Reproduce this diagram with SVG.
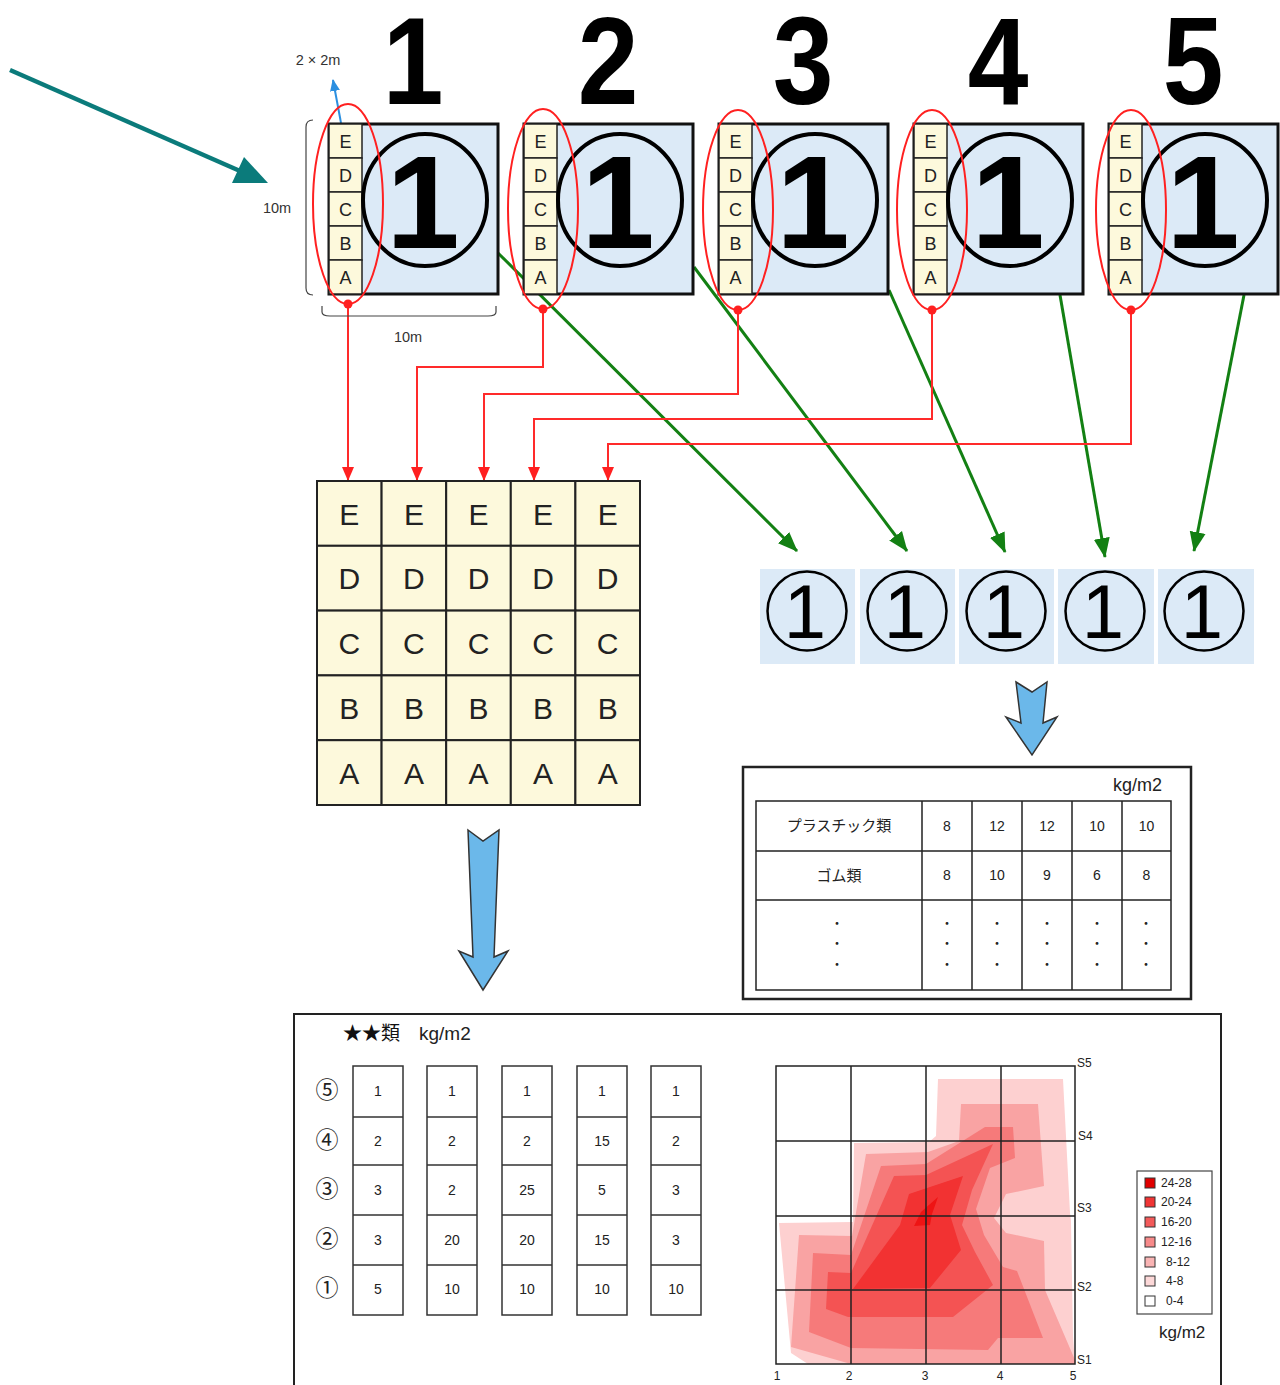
<svg xmlns="http://www.w3.org/2000/svg" width="1280" height="1385" viewBox="0 0 1280 1385">
<defs>
<style>
.sans{font-family:"Liberation Sans","Noto Sans CJK JP",sans-serif;}
.jp{font-family:"Noto Sans CJK JP","Liberation Sans",sans-serif;}
.blk{fill:#dceaf7;stroke:#111;stroke-width:3;}
.cell{fill:#fdf9dc;stroke:#222;stroke-width:1.5;}
.gcell{fill:#fdf9dc;stroke:#222;stroke-width:2;}
.ring{fill:none;stroke:#000;stroke-width:4;}
.ring2{fill:none;stroke:#000;stroke-width:2.5;}
.sel{fill:none;stroke:#ff2020;stroke-width:2;}
.dot{fill:#ff2020;}
.red{fill:none;stroke:#ff2a2a;stroke-width:2;}
.grn{fill:none;stroke:#138013;stroke-width:3;}
.tc{text-anchor:middle;}
.line{fill:none;stroke:#222;stroke-width:1.5;}
.tbl{fill:none;stroke:#222;stroke-width:1.5;}
.big{fill:#6bb8ea;stroke:#333;stroke-width:1.5;}
</style>
<marker id="ar" markerUnits="userSpaceOnUse" markerWidth="14" markerHeight="14" viewBox="0 0 14 14" refX="13" refY="7" orient="auto">
<path d="M0,1 L14,7 L0,13 Z" fill="#ff2020"/>
</marker>
<marker id="ag" markerUnits="userSpaceOnUse" markerWidth="20" markerHeight="18" viewBox="0 0 20 18" refX="19" refY="9" orient="auto">
<path d="M0,1 L20,9 L0,17 Z" fill="#138013"/>
</marker>
<marker id="ab" markerUnits="userSpaceOnUse" markerWidth="12" markerHeight="12" viewBox="0 0 12 12" refX="11" refY="6" orient="auto">
<path d="M0,1 L12,6 L0,11 Z" fill="#2b8fe0"/>
</marker>
</defs>
<rect width="1280" height="1385" fill="#ffffff"/>

<!-- connectors -->
<g id="connectors">
<line x1="498" y1="253" x2="797" y2="551" class="grn" marker-end="url(#ag)"/>
<line x1="694" y1="267" x2="907" y2="551" class="grn" marker-end="url(#ag)"/>
<line x1="889" y1="290" x2="1005" y2="552" class="grn" marker-end="url(#ag)"/>
<line x1="1060" y1="295" x2="1105" y2="557" class="grn" marker-end="url(#ag)"/>
<line x1="1244" y1="295" x2="1194" y2="551" class="grn" marker-end="url(#ag)"/>
<path d="M348,306 V480" class="red" marker-end="url(#ar)"/>
<path d="M543,311 V367 H417 V480" class="red" marker-end="url(#ar)"/>
<path d="M738,312 V394 H484 V480" class="red" marker-end="url(#ar)"/>
<path d="M932,312 V419 H534 V480" class="red" marker-end="url(#ar)"/>
<path d="M1131,312 V444 H608 V480" class="red" marker-end="url(#ar)"/>
<line x1="10" y1="70" x2="240" y2="171" stroke="#0b7b7b" stroke-width="4.5"/>
<polygon points="268,183 232,183 244,157" fill="#0b7b7b"/>
<line x1="341" y1="123" x2="333" y2="80" stroke="#2b8fe0" stroke-width="2" marker-end="url(#ab)"/>
<polygon class="big" points="468,830 483,841 499,830 494,957 508,951 483,990 459,951 473,957"/>
<polygon class="big" points="1016,682 1032,692 1047,682 1043,723 1057,717 1032,755 1006,717 1021,723"/>
</g>

<!-- column numbers -->
<g id="numbers" class="sans" font-size="124" font-weight="bold" text-anchor="middle" fill="#000">
<text transform="translate(413,104) scale(0.88,1)">1</text>
<text transform="translate(608,104) scale(0.88,1)">2</text>
<text transform="translate(803,104) scale(0.88,1)">3</text>
<text transform="translate(998,104) scale(0.88,1)">4</text>
<text transform="translate(1193,104) scale(0.88,1)">5</text>
</g>

<!-- dimension labels -->
<g id="dims" class="sans" fill="#333">
<text x="318" y="65" font-size="14.5" text-anchor="middle">2 × 2m</text>
<text x="277" y="213" font-size="14.5" text-anchor="middle">10m</text>
<text x="408" y="342" font-size="14.5" text-anchor="middle">10m</text>
<path d="M313,120 Q306,120 306,127 V288 Q306,295 313,295" fill="none" stroke="#444" stroke-width="1.2"/>
<path d="M322,306 V312 Q322,316 330,316 H488 Q496,316 496,312 V306" fill="none" stroke="#444" stroke-width="1.2"/>
</g>

<!-- blocks -->
<g id="block1">
<rect class="blk" x="329" y="124" width="169" height="170"/>
<rect class="cell" x="329" y="124" width="33" height="34"/><rect class="cell" x="329" y="158" width="33" height="34"/><rect class="cell" x="329" y="192" width="33" height="34"/><rect class="cell" x="329" y="226" width="33" height="34"/><rect class="cell" x="329" y="260" width="33" height="34"/>
<g class="sans tc" font-size="18" fill="#222"><text x="345.5" y="147.5">E</text><text x="345.5" y="181.5">D</text><text x="345.5" y="215.5">C</text><text x="345.5" y="249.5">B</text><text x="345.5" y="283.5">A</text></g>
<ellipse class="ring" cx="425" cy="200" rx="62" ry="66"/>
<text class="sans tc" x="423" y="248" font-size="132" font-weight="bold">1</text>
<ellipse class="sel" cx="348" cy="204" rx="35" ry="100"/>
<circle class="dot" cx="348" cy="304" r="4.5"/>
</g>
<g id="block2">
<rect class="blk" x="524" y="124" width="169" height="170"/>
<rect class="cell" x="524" y="124" width="33" height="34"/><rect class="cell" x="524" y="158" width="33" height="34"/><rect class="cell" x="524" y="192" width="33" height="34"/><rect class="cell" x="524" y="226" width="33" height="34"/><rect class="cell" x="524" y="260" width="33" height="34"/>
<g class="sans tc" font-size="18" fill="#222"><text x="540.5" y="147.5">E</text><text x="540.5" y="181.5">D</text><text x="540.5" y="215.5">C</text><text x="540.5" y="249.5">B</text><text x="540.5" y="283.5">A</text></g>
<ellipse class="ring" cx="620" cy="200" rx="62" ry="66"/>
<text class="sans tc" x="618" y="248" font-size="132" font-weight="bold">1</text>
<ellipse class="sel" cx="543" cy="209" rx="35" ry="100"/>
<circle class="dot" cx="543" cy="309" r="4.5"/>
</g>
<g id="block3">
<rect class="blk" x="719" y="124" width="169" height="170"/>
<rect class="cell" x="719" y="124" width="33" height="34"/><rect class="cell" x="719" y="158" width="33" height="34"/><rect class="cell" x="719" y="192" width="33" height="34"/><rect class="cell" x="719" y="226" width="33" height="34"/><rect class="cell" x="719" y="260" width="33" height="34"/>
<g class="sans tc" font-size="18" fill="#222"><text x="735.5" y="147.5">E</text><text x="735.5" y="181.5">D</text><text x="735.5" y="215.5">C</text><text x="735.5" y="249.5">B</text><text x="735.5" y="283.5">A</text></g>
<ellipse class="ring" cx="815" cy="200" rx="62" ry="66"/>
<text class="sans tc" x="813" y="248" font-size="132" font-weight="bold">1</text>
<ellipse class="sel" cx="738" cy="210" rx="35" ry="100"/>
<circle class="dot" cx="738" cy="310" r="4.5"/>
</g>
<g id="block4">
<rect class="blk" x="914" y="124" width="169" height="170"/>
<rect class="cell" x="914" y="124" width="33" height="34"/><rect class="cell" x="914" y="158" width="33" height="34"/><rect class="cell" x="914" y="192" width="33" height="34"/><rect class="cell" x="914" y="226" width="33" height="34"/><rect class="cell" x="914" y="260" width="33" height="34"/>
<g class="sans tc" font-size="18" fill="#222"><text x="930.5" y="147.5">E</text><text x="930.5" y="181.5">D</text><text x="930.5" y="215.5">C</text><text x="930.5" y="249.5">B</text><text x="930.5" y="283.5">A</text></g>
<ellipse class="ring" cx="1010" cy="200" rx="62" ry="66"/>
<text class="sans tc" x="1008" y="248" font-size="132" font-weight="bold">1</text>
<ellipse class="sel" cx="932" cy="210" rx="35" ry="100"/>
<circle class="dot" cx="932" cy="310" r="4.5"/>
</g>
<g id="block5">
<rect class="blk" x="1109" y="124" width="169" height="170"/>
<rect class="cell" x="1109" y="124" width="33" height="34"/><rect class="cell" x="1109" y="158" width="33" height="34"/><rect class="cell" x="1109" y="192" width="33" height="34"/><rect class="cell" x="1109" y="226" width="33" height="34"/><rect class="cell" x="1109" y="260" width="33" height="34"/>
<g class="sans tc" font-size="18" fill="#222"><text x="1125.5" y="147.5">E</text><text x="1125.5" y="181.5">D</text><text x="1125.5" y="215.5">C</text><text x="1125.5" y="249.5">B</text><text x="1125.5" y="283.5">A</text></g>
<ellipse class="ring" cx="1205" cy="200" rx="62" ry="66"/>
<text class="sans tc" x="1203" y="248" font-size="132" font-weight="bold">1</text>
<ellipse class="sel" cx="1131" cy="210" rx="35" ry="100"/>
<circle class="dot" cx="1131" cy="310" r="4.5"/>
</g>

<!-- ABCDE grid -->
<g id="grid">
<g>
<rect class="gcell" x="317" y="481" width="64.6" height="64.8"/><rect class="gcell" x="381.6" y="481" width="64.6" height="64.8"/><rect class="gcell" x="446.2" y="481" width="64.6" height="64.8"/><rect class="gcell" x="510.8" y="481" width="64.6" height="64.8"/><rect class="gcell" x="575.4" y="481" width="64.6" height="64.8"/>
<rect class="gcell" x="317" y="545.8" width="64.6" height="64.8"/><rect class="gcell" x="381.6" y="545.8" width="64.6" height="64.8"/><rect class="gcell" x="446.2" y="545.8" width="64.6" height="64.8"/><rect class="gcell" x="510.8" y="545.8" width="64.6" height="64.8"/><rect class="gcell" x="575.4" y="545.8" width="64.6" height="64.8"/>
<rect class="gcell" x="317" y="610.6" width="64.6" height="64.8"/><rect class="gcell" x="381.6" y="610.6" width="64.6" height="64.8"/><rect class="gcell" x="446.2" y="610.6" width="64.6" height="64.8"/><rect class="gcell" x="510.8" y="610.6" width="64.6" height="64.8"/><rect class="gcell" x="575.4" y="610.6" width="64.6" height="64.8"/>
<rect class="gcell" x="317" y="675.4" width="64.6" height="64.8"/><rect class="gcell" x="381.6" y="675.4" width="64.6" height="64.8"/><rect class="gcell" x="446.2" y="675.4" width="64.6" height="64.8"/><rect class="gcell" x="510.8" y="675.4" width="64.6" height="64.8"/><rect class="gcell" x="575.4" y="675.4" width="64.6" height="64.8"/>
<rect class="gcell" x="317" y="740.2" width="64.6" height="64.8"/><rect class="gcell" x="381.6" y="740.2" width="64.6" height="64.8"/><rect class="gcell" x="446.2" y="740.2" width="64.6" height="64.8"/><rect class="gcell" x="510.8" y="740.2" width="64.6" height="64.8"/><rect class="gcell" x="575.4" y="740.2" width="64.6" height="64.8"/>
</g>
<g class="sans tc" font-size="30" fill="#222">
<text x="349.3" y="524.5">E</text><text x="413.9" y="524.5">E</text><text x="478.5" y="524.5">E</text><text x="543.1" y="524.5">E</text><text x="607.7" y="524.5">E</text>
<text x="349.3" y="589.3">D</text><text x="413.9" y="589.3">D</text><text x="478.5" y="589.3">D</text><text x="543.1" y="589.3">D</text><text x="607.7" y="589.3">D</text>
<text x="349.3" y="654.1">C</text><text x="413.9" y="654.1">C</text><text x="478.5" y="654.1">C</text><text x="543.1" y="654.1">C</text><text x="607.7" y="654.1">C</text>
<text x="349.3" y="718.9">B</text><text x="413.9" y="718.9">B</text><text x="478.5" y="718.9">B</text><text x="543.1" y="718.9">B</text><text x="607.7" y="718.9">B</text>
<text x="349.3" y="783.7">A</text><text x="413.9" y="783.7">A</text><text x="478.5" y="783.7">A</text><text x="543.1" y="783.7">A</text><text x="607.7" y="783.7">A</text>
</g>
</g>

<!-- circle row -->
<g id="circles">
<rect x="760" y="569" width="95" height="95" fill="#dceaf7"/>
<rect x="860" y="569" width="95" height="95" fill="#dceaf7"/>
<rect x="959" y="569" width="95" height="95" fill="#dceaf7"/>
<rect x="1058" y="569" width="96" height="95" fill="#dceaf7"/>
<rect x="1158" y="569" width="96" height="95" fill="#dceaf7"/>
<circle class="ring2" cx="807" cy="611" r="39.5"/>
<circle class="ring2" cx="907" cy="611" r="39.5"/>
<circle class="ring2" cx="1006" cy="611" r="39.5"/>
<circle class="ring2" cx="1105" cy="611" r="39.5"/>
<circle class="ring2" cx="1204" cy="611" r="39.5"/>
<g class="sans tc" font-size="76" fill="#000">
<text x="805" y="638">1</text><text x="905" y="638">1</text><text x="1004" y="638">1</text><text x="1103" y="638">1</text><text x="1202" y="638">1</text>
</g>
</g>

<!-- table -->
<g id="table">
<rect x="743" y="767" width="448" height="232" fill="#fff" stroke="#222" stroke-width="2.5"/>
<text class="sans" x="1162" y="791" font-size="18" text-anchor="end" fill="#222">kg/m2</text>
<rect class="tbl" x="756" y="801" width="415" height="189"/>
<path class="tbl" d="M922,801 V990 M972,801 V990 M1022,801 V990 M1072,801 V990 M1122,801 V990 M756,851 H1171 M756,900 H1171"/>
<text class="jp tc" x="839" y="831" font-size="15" fill="#222">プラスチック類</text>
<text class="jp tc" x="839" y="881" font-size="15" fill="#222">ゴム類</text>
<g class="sans tc" font-size="14" fill="#222">
<text x="947" y="831">8</text><text x="997" y="831">12</text><text x="1047" y="831">12</text><text x="1097" y="831">10</text><text x="1146.5" y="831">10</text>
<text x="947" y="880">8</text><text x="997" y="880">10</text><text x="1047" y="880">9</text><text x="1097" y="880">6</text><text x="1146.5" y="880">8</text>
</g>
<g class="jp tc" font-size="13" fill="#222">
<text x="837" y="928">・</text><text x="837" y="948">・</text><text x="837" y="969">・</text>
<text x="947" y="928">・</text><text x="947" y="948">・</text><text x="947" y="969">・</text>
<text x="997" y="928">・</text><text x="997" y="948">・</text><text x="997" y="969">・</text>
<text x="1047" y="928">・</text><text x="1047" y="948">・</text><text x="1047" y="969">・</text>
<text x="1097" y="928">・</text><text x="1097" y="948">・</text><text x="1097" y="969">・</text>
<text x="1146" y="928">・</text><text x="1146" y="948">・</text><text x="1146" y="969">・</text>
</g>
</g>

<!-- bottom panel -->
<g id="result">
<rect x="294" y="1014" width="927" height="400" fill="none" stroke="#222" stroke-width="2"/>
<text class="jp" x="343" y="1040" font-size="19" fill="#111">★★類</text>
<text class="sans" x="419" y="1040" font-size="19" fill="#222">kg/m2</text>
<g class="jp tc" font-size="23" fill="#222">
<text x="327" y="1098">⑤</text><text x="327" y="1148">④</text><text x="327" y="1197">③</text><text x="327" y="1247">②</text><text x="327" y="1296">①</text>
</g>
<g fill="#fff" stroke="#333" stroke-width="1.5">
<rect x="353" y="1066" width="50" height="249"/><rect x="427" y="1066" width="50" height="249"/><rect x="502" y="1066" width="50" height="249"/><rect x="577" y="1066" width="50" height="249"/><rect x="651" y="1066" width="50" height="249"/>
</g>
<path stroke="#333" stroke-width="1.5" fill="none" d="M353,1117 H403 M353,1165 H403 M353,1215 H403 M353,1265 H403 M427,1117 H477 M427,1165 H477 M427,1215 H477 M427,1265 H477 M502,1117 H552 M502,1165 H552 M502,1215 H552 M502,1265 H552 M577,1117 H627 M577,1165 H627 M577,1215 H627 M577,1265 H627 M651,1117 H701 M651,1165 H701 M651,1215 H701 M651,1265 H701"/>
<g class="sans tc" font-size="14" fill="#222">
<text x="378" y="1096">1</text><text x="378" y="1146">2</text><text x="378" y="1195">3</text><text x="378" y="1245">3</text><text x="378" y="1294">5</text>
<text x="452" y="1096">1</text><text x="452" y="1146">2</text><text x="452" y="1195">2</text><text x="452" y="1245">20</text><text x="452" y="1294">10</text>
<text x="527" y="1096">1</text><text x="527" y="1146">2</text><text x="527" y="1195">25</text><text x="527" y="1245">20</text><text x="527" y="1294">10</text>
<text x="602" y="1096">1</text><text x="602" y="1146">15</text><text x="602" y="1195">5</text><text x="602" y="1245">15</text><text x="602" y="1294">10</text>
<text x="676" y="1096">1</text><text x="676" y="1146">2</text><text x="676" y="1195">3</text><text x="676" y="1245">3</text><text x="676" y="1294">10</text>
</g>
</g>

<!-- contour map -->
<g id="contour">
<polygon fill="#fdd0d0" points="938,1079 1063,1079 1070,1213 1071,1221 1073,1336 1075,1364 808,1364 791,1353 779,1223 853,1222 854,1143 929,1142 936,1136"/>
<polygon fill="#f9a3a3" points="961,1104 1038,1104 1044,1186 1006,1194 994,1218 1006,1233 1044,1241 1045,1290 1075,1360 1075,1364 851,1364 791,1347 799,1235 852,1236 866,1154 928,1152 959,1141"/>
<polygon fill="#f67a7a" points="985,1127 1013,1127 1015,1158 990,1168 976,1209 984,1235 1003,1267 1017,1271 1043,1338 998,1338 988,1350 851,1348 809,1332 813,1253 851,1255 881,1166 926,1164"/>
<polygon fill="#f45353" points="894,1176 926,1175 993,1144 972,1190 962,1225 975,1252 993,1285 953,1317 848,1317 826,1309 828,1272 851,1273"/>
<polygon fill="#f23232" points="909,1194 963,1176 950,1215 961,1250 930,1288 853,1289 900,1225"/>
<polygon fill="#ee1414" points="914,1226 921,1212 938,1197 932,1214 930,1225"/>
<path class="line" d="M776,1066 H1075 V1364 H776 Z M776,1141 H1075 M776,1216 H1075 M776,1290 H1075 M851,1066 V1364 M926,1066 V1364 M1001,1066 V1364"/>
<g class="sans" font-size="12" fill="#222">
<text x="1077" y="1067">S5</text><text x="1078" y="1140">S4</text><text x="1077" y="1212">S3</text><text x="1077" y="1291">S2</text><text x="1077" y="1364">S1</text>
<text x="777" y="1380" text-anchor="middle">1</text><text x="849" y="1380" text-anchor="middle">2</text><text x="925" y="1380" text-anchor="middle">3</text><text x="1000" y="1380" text-anchor="middle">4</text><text x="1073" y="1380" text-anchor="middle">5</text>
</g>
</g>

<!-- legend -->
<g id="legend">
<rect x="1137" y="1171" width="75" height="143" fill="#fff" stroke="#444" stroke-width="1.2"/>
<g stroke="#333" stroke-width="1">
<rect x="1145" y="1178" width="10" height="10" fill="#e00000"/>
<rect x="1145" y="1197" width="10" height="10" fill="#f03535"/>
<rect x="1145" y="1217" width="10" height="10" fill="#f35a5a"/>
<rect x="1145" y="1237" width="10" height="10" fill="#f78a8a"/>
<rect x="1145" y="1257" width="10" height="10" fill="#f9b4b4"/>
<rect x="1145" y="1276" width="10" height="10" fill="#fcd8d8"/>
<rect x="1145" y="1296" width="10" height="10" fill="#ffffff"/>
</g>
<g class="sans" font-size="12" fill="#222">
<text x="1161" y="1187">24-28</text><text x="1161" y="1206">20-24</text><text x="1161" y="1226">16-20</text><text x="1161" y="1246">12-16</text><text x="1166" y="1266">8-12</text><text x="1166" y="1285">4-8</text><text x="1166" y="1305">0-4</text>
</g>
<text class="sans" x="1159" y="1338" font-size="17" fill="#222">kg/m2</text>
</g>
</svg>
